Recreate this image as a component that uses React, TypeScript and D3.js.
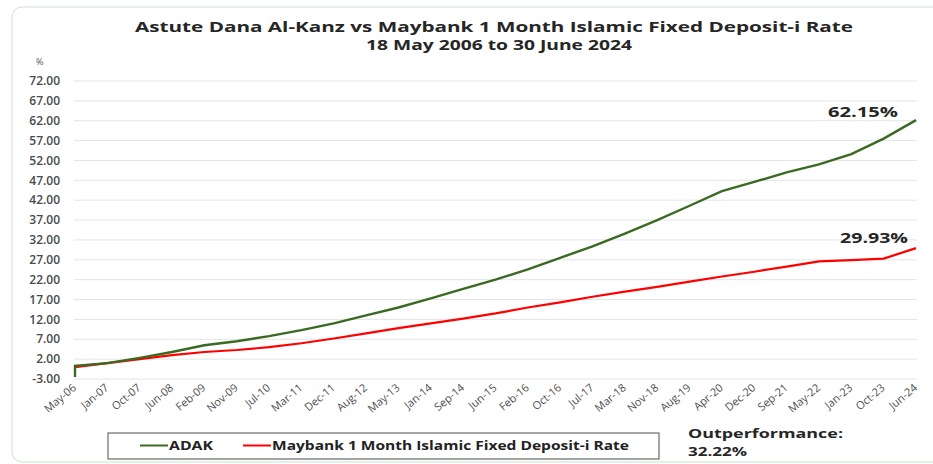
import React, { useEffect, useRef } from 'react';
import * as d3 from 'd3';

const tickLabels = [
  'May-06', 'Jan-07', 'Oct-07', 'Jun-08', 'Feb-09', 'Nov-09', 'Jul-10', 'Mar-11', 'Dec-11',
  'Aug-12', 'May-13', 'Jan-14', 'Sep-14', 'Jun-15', 'Feb-16', 'Oct-16', 'Jul-17', 'Mar-18',
  'Nov-18', 'Aug-19', 'Apr-20', 'Dec-20', 'Sep-21', 'May-22', 'Jan-23', 'Oct-23', 'Jun-24',
];

// ADAK cumulative return (%) at each label, plus the dip on the first day
const adakStart = -2.5;
const adak = [
  0.3, 1.0, 2.3, 3.8, 5.5, 6.5, 7.8, 9.3, 11.0, 13.0, 15.0, 17.3, 19.7, 22.0, 24.6,
  27.5, 30.4, 33.6, 37.0, 40.6, 44.3, 46.6, 49.0, 51.0, 53.6, 57.5, 62.15,
];

// Maybank 1 Month Islamic FD-i cumulative return (%)
const maybank = [
  0.0, 1.0, 2.0, 3.0, 3.8, 4.3, 5.0, 6.0, 7.2, 8.5, 9.8, 11.0, 12.2, 13.5, 15.0,
  16.3, 17.7, 19.0, 20.2, 21.5, 22.8, 24.0, 25.3, 26.6, 26.9, 27.3, 29.93,
];

const yTicks = d3.range(-3, 73, 5);
const title1 = 'Astute Dana Al-Kanz vs Maybank 1 Month Islamic Fixed Deposit-i Rate';
const title2 = '18 May 2006 to 30 June 2024';
const adakLabel = '62.15%';
const maybankLabel = '29.93%';
const outperf = ['Outperformance:', '32.22%'];

const GREEN = '#3a6a22';
const RED = '#ff0000';
const FONT = '"Open Sans", "Noto Sans", sans-serif';

export default function App() {
  const ref = useRef<SVGSVGElement>(null);

  useEffect(() => {
    const svg = d3.select(ref.current);
    svg.selectAll('*').remove();

    const x = d3.scaleLinear().domain([0, tickLabels.length - 1]).range([75, 916]);
    const y = d3.scaleLinear().domain([-3, 72]).range([379, 81]);

    // card outline
    svg.append('rect')
      .attr('x', 12).attr('y', 7).attr('width', 940).attr('height', 455)
      .attr('rx', 10).attr('fill', 'none').attr('stroke', '#cde3cd').attr('stroke-width', 1);

    const boldText = (t: string, px: number, py: number, size: number, len: number, anchor = 'start') =>
      svg.append('text')
        .attr('x', px).attr('y', py).attr('text-anchor', anchor)
        .attr('font-family', FONT).attr('font-size', size).attr('font-weight', 700)
        .attr('textLength', len).attr('lengthAdjust', 'spacingAndGlyphs')
        .attr('fill', '#262626').text(t);

    boldText(title1, 135, 32, 14, 718);
    boldText(title2, 366, 50, 14, 266);

    svg.append('text')
      .attr('x', 36).attr('y', 65)
      .attr('font-family', FONT).attr('font-size', 9).attr('fill', '#555').text('%');

    // gridlines
    svg.append('g')
      .selectAll('line')
      .data(yTicks)
      .join('line')
      .attr('x1', 74).attr('x2', 917)
      .attr('y1', (d) => y(d)).attr('y2', (d) => y(d))
      .attr('stroke', '#e4e4e4').attr('stroke-width', 1);

    svg.append('g')
      .selectAll('text')
      .data(yTicks)
      .join('text')
      .attr('x', 60).attr('y', (d) => y(d)).attr('dy', '0.35em')
      .attr('text-anchor', 'end')
      .attr('font-family', FONT).attr('font-size', 12).attr('font-weight', 600)
      .attr('fill', '#4a4a4a')
      .text((d) => d.toFixed(2));

    svg.append('g')
      .selectAll('text')
      .data(tickLabels)
      .join('text')
      .attr('transform', (d, i) => `translate(${x(i) + 2},${389}) rotate(-40)`)
      .attr('text-anchor', 'end')
      .attr('font-family', FONT).attr('font-size', 11).attr('fill', '#505050')
      .text((d) => d);

    const line = d3.line<{ i: number; v: number }>()
      .x((d) => x(d.i))
      .y((d) => y(d.v));

    const maybankPts = maybank.map((v, i) => ({ i, v }));
    const adakPts = [{ i: 0, v: adakStart }, ...adak.map((v, i) => ({ i, v }))];

    svg.append('path')
      .datum(maybankPts)
      .attr('d', line)
      .attr('fill', 'none').attr('stroke', RED).attr('stroke-width', 2.2);
    svg.append('path')
      .datum(adakPts)
      .attr('d', line)
      .attr('fill', 'none').attr('stroke', GREEN).attr('stroke-width', 2.4);

    boldText(adakLabel, 828, 117, 14, 70);
    boldText(maybankLabel, 840, 243, 14, 68);

    // legend
    const lg = svg.append('g');
    lg.append('rect')
      .attr('x', 108).attr('y', 433).attr('width', 551).attr('height', 26)
      .attr('fill', '#fff').attr('stroke', '#6b6b6b').attr('stroke-width', 1.2);
    const items = [
      { name: 'ADAK', color: GREEN, x: 140, len: 44 },
      { name: 'Maybank 1 Month Islamic Fixed Deposit-i Rate', color: RED, x: 243, len: 357 },
    ];
    items.forEach((it) => {
      lg.append('line')
        .attr('x1', it.x).attr('x2', it.x + 28).attr('y1', 445.5).attr('y2', 445.5)
        .attr('stroke', it.color).attr('stroke-width', 2);
      lg.append('text')
        .attr('x', it.x + 29).attr('y', 449.5)
        .attr('font-family', FONT).attr('font-size', 12).attr('font-weight', 700)
        .attr('textLength', it.len).attr('lengthAdjust', 'spacingAndGlyphs')
        .attr('fill', '#222').text(it.name);
    });

    boldText(outperf[0], 688, 438, 12.5, 155);
    boldText(outperf[1], 688, 456, 12, 59);
  }, []);

  return (
    <svg
      ref={ref}
      width={933}
      height={464}
      style={{ position: 'absolute', left: 0, top: 0, background: '#fff' }}
    />
  );
}
